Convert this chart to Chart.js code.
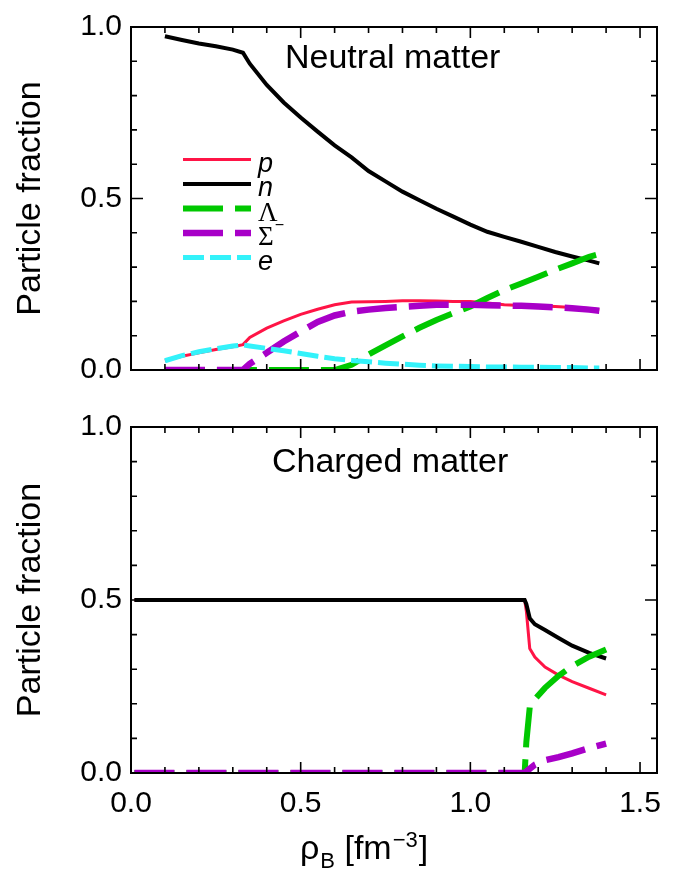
<!DOCTYPE html>
<html>
<head>
<meta charset="utf-8">
<script src="https://cdn.jsdelivr.net/npm/chart.js@4.4.0/dist/chart.umd.min.js"></script>
<style>
  body { margin: 0; background: #fff; }
  #wrap { position: relative; width: 688px; height: 874px; }
  canvas { position: absolute; left: 0; display: block; }
</style>
</head>
<body>
<div id="wrap">
  <canvas id="top" width="688" height="400" style="top:0"></canvas>
  <canvas id="bottom" width="688" height="474" style="top:400px"></canvas>
</div>
<script>
// baryon density grid, neutral matter panel
let xNeutral = [0.10, 0.15, 0.20, 0.25, 0.30, 0.33, 0.35, 0.40, 0.45, 0.50, 0.55, 0.60, 0.65, 0.70,
                0.75, 0.80, 0.85, 0.90, 0.95, 1.00, 1.05, 1.10, 1.15, 1.20, 1.25, 1.30, 1.35, 1.38];
let pNeutral = [0.027, 0.040, 0.050, 0.060, 0.068, 0.074, 0.095, 0.122, 0.143, 0.162, 0.177, 0.190, 0.198, 0.199,
                0.200, 0.202, 0.202, 0.201, 0.200, 0.200, 0.195, 0.190, 0.188, 0.187, 0.185, 0.182, 0.179, 0.176];
let nNeutral = [0.973, 0.962, 0.952, 0.944, 0.934, 0.925, 0.893, 0.831, 0.780, 0.736, 0.695, 0.655, 0.620, 0.580,
                0.550, 0.520, 0.495, 0.470, 0.447, 0.424, 0.403, 0.388, 0.374, 0.359, 0.344, 0.331, 0.319, 0.311];
let lamNeutral = [0, 0, 0, 0, 0, 0, 0, 0, 0, 0, 0, 0, 0.015, 0.045,
                  0.072, 0.098, 0.123, 0.146, 0.166, 0.185, 0.210, 0.233, 0.252, 0.272, 0.292, 0.311, 0.330, 0.338];
let sigNeutral = [0, 0, 0, 0, 0, 0, 0.018, 0.050, 0.083, 0.112, 0.140, 0.159, 0.170, 0.176,
                  0.181, 0.184, 0.187, 0.190, 0.190, 0.190, 0.189, 0.188, 0.187, 0.185, 0.183, 0.180, 0.176, 0.173];
let eNeutral = [0.027, 0.042, 0.053, 0.062, 0.070, 0.073, 0.070, 0.063, 0.056, 0.048, 0.040, 0.033, 0.028, 0.024,
                0.020, 0.017, 0.014, 0.012, 0.011, 0.010, 0.009, 0.009, 0.008, 0.008, 0.007, 0.007, 0.006, 0.006];

// charged matter panel
let xCharged = [0.01, 0.50, 1.00, 1.16, 1.165, 1.175, 1.19, 1.22, 1.26, 1.30, 1.35, 1.40];
let pCharged = [0.5, 0.5, 0.5, 0.5, 0.468, 0.360, 0.335, 0.306, 0.283, 0.264, 0.245, 0.226];
let nCharged = [0.5, 0.5, 0.5, 0.5, 0.488, 0.447, 0.430, 0.413, 0.390, 0.368, 0.347, 0.331];
let lamCharged = [0, 0, 0, 0, 0.090, 0.190, 0.213, 0.246, 0.281, 0.309, 0.336, 0.357];
let sigCharged = [0, 0, 0, 0, 0.004, 0.012, 0.024, 0.037, 0.046, 0.057, 0.072, 0.085];

let xTickValues = [0, 0.5, 1.0, 1.5];
let xTickLabels = ['0.0', '0.5', '1.0', '1.5'];
let yTickValues = [0, 0.5, 1.0];
let yTickLabels = ['0.0', '0.5', '1.0'];

let legendLabels = ['p', 'n', 'Λ', 'Σ', 'e'];

let styles = {
  p:   { color: '#ff1446', width: 3,   dash: [] },
  n:   { color: '#000000', width: 4,   dash: [] },
  lam: { color: '#00c800', width: 6,   dash: [40, 12] },
  sig: { color: '#a800c8', width: 6.5, dash: [40, 12] },
  e:   { color: '#33f2fa', width: 5,   dash: [21, 6] },
};

Chart.defaults.color = '#000';
Chart.defaults.font.family = '"Liberation Sans", Arial, Helvetica, sans-serif';

function line(xs, ys, key, order) {
  let s = styles[key];
  return {
    data: xs.map((x, i) => ({ x: x, y: ys[i] })),
    borderColor: s.color,
    borderWidth: s.width,
    borderDash: s.dash,
    pointRadius: 0,
    tension: 0,
    fill: false,
    clip: 0,
    order: order,
  };
}

// box with inward ticks on all four sides
let frameTicks = {
  id: 'frameTicks',
  afterDraw(chart) {
    let { ctx, chartArea: a, scales } = chart;
    let x = scales.x, y = scales.y;
    ctx.save();
    ctx.strokeStyle = '#000';
    ctx.lineWidth = 1.6;
    ctx.beginPath();
    for (let i = 0; i <= 15; i++) {
      let px = x.getPixelForValue(i / 10);
      let len = i % 5 === 0 ? 11 : 6;
      ctx.moveTo(px, a.bottom); ctx.lineTo(px, a.bottom - len);
      ctx.moveTo(px, a.top); ctx.lineTo(px, a.top + len);
    }
    for (let i = 0; i <= 10; i++) {
      let py = y.getPixelForValue(i / 10);
      let len = i % 5 === 0 ? 12 : 6;
      ctx.moveTo(a.left, py); ctx.lineTo(a.left + len, py);
      ctx.moveTo(a.right, py); ctx.lineTo(a.right - len, py);
    }
    ctx.stroke();
    ctx.lineWidth = 2;
    ctx.strokeRect(a.left, a.top, a.right - a.left, a.bottom - a.top);
    ctx.restore();
  }
};

let textBits = {
  id: 'textBits',
  afterDraw(chart, args, opts) {
    let ctx = chart.ctx;
    ctx.save();
    ctx.fillStyle = '#000';
    ctx.textBaseline = 'alphabetic';
    ctx.font = '34px "Liberation Sans", Arial, sans-serif';
    ctx.fillText(opts.label, opts.lx, opts.ly);

    if (opts.legend) {
      let dsIdx = [0, 1, 2, 3, 4];
      dsIdx.forEach((d, i) => {
        let ds = chart.data.datasets[d];
        let ly = 159.5 + i * 24.5;
        ctx.save();
        ctx.strokeStyle = ds.borderColor;
        ctx.lineWidth = ds.borderWidth;
        ctx.setLineDash(ds.borderDash);
        ctx.beginPath();
        ctx.moveTo(183, ly);
        ctx.lineTo(251, ly);
        ctx.stroke();
        ctx.restore();
        let lab = legendLabels[i];
        let greek = lab === 'Λ' || lab === 'Σ';
        ctx.font = greek ? '27px "Liberation Serif", "DejaVu Serif", serif'
                         : 'italic 27px "Liberation Sans", Arial, sans-serif';
        ctx.fillText(lab, 258, ly + 12);
        if (lab === 'Σ') {
          let w = ctx.measureText(lab).width;
          ctx.font = '16px "Liberation Sans", Arial, sans-serif';
          ctx.fillText('−', 258 + w + 1, ly - 3);
        }
      });
    }

    if (opts.xTitle) {
      let bx = 300, base = 459;
      ctx.font = '34px "Liberation Sans", Arial, sans-serif';
      ctx.fillText('ρ', bx, base);
      bx += ctx.measureText('ρ').width + 1;
      ctx.font = '22px "Liberation Sans", Arial, sans-serif';
      ctx.fillText('B', bx, base + 9);
      bx += ctx.measureText('B').width;
      ctx.font = '34px "Liberation Sans", Arial, sans-serif';
      ctx.fillText(' [fm', bx, base);
      bx += ctx.measureText(' [fm').width + 1;
      ctx.font = '22px "Liberation Sans", Arial, sans-serif';
      ctx.fillText('−3', bx, base - 12);
      bx += ctx.measureText('−3').width + 1;
      ctx.font = '34px "Liberation Sans", Arial, sans-serif';
      ctx.fillText(']', bx, base);
    }
    ctx.restore();
  }
};

function makeOptions(cfg) {
  return {
    responsive: false,
    animation: false,
    devicePixelRatio: 1,
    layout: { padding: { top: cfg.padTop, right: 31, left: 0, bottom: 0 } },
    plugins: {
      legend: { display: false },
      tooltip: { enabled: false },
      textBits: cfg.text,
    },
    scales: {
      x: {
        type: 'linear', min: 0, max: 1.55,
        grid: { display: false, drawTicks: false },
        border: { display: false },
        afterBuildTicks: s => { s.ticks = xTickValues.map(v => ({ value: v })); },
        ticks: { display: cfg.showX, padding: 13, font: { size: 30 },
                 callback: (v, i) => xTickLabels[i] },
        afterFit: s => { s.height = cfg.xHeight; },
      },
      y: {
        type: 'linear', min: 0, max: 1,
        grid: { display: false, drawTicks: false },
        border: { display: false },
        afterBuildTicks: s => { s.ticks = yTickValues.map(v => ({ value: v })); },
        ticks: { padding: 9, font: { size: 30 }, callback: (v, i) => yTickLabels[i] },
        title: { display: true, text: 'Particle fraction', font: { size: 34 },
                 padding: { top: 10, bottom: 0 } },
        afterFit: s => { s.width = 131; },
      },
    },
  };
}

new Chart(document.getElementById('top'), {
  type: 'line',
  data: {
    datasets: [
      line(xNeutral, pNeutral, 'p', 5),
      line(xNeutral, nNeutral, 'n', 4),
      line(xNeutral, lamNeutral, 'lam', 3),
      line(xNeutral, sigNeutral, 'sig', 2),
      line(xNeutral, eNeutral, 'e', 1),
    ],
  },
  options: makeOptions({
    padTop: 19, showX: false, xHeight: 30,
    text: { label: 'Neutral matter', lx: 285, ly: 68, legend: true, xTitle: false },
  }),
  plugins: [frameTicks, textBits],
});

new Chart(document.getElementById('bottom'), {
  type: 'line',
  data: {
    datasets: [
      line(xCharged, pCharged, 'p', 5),
      line(xCharged, nCharged, 'n', 4),
      line(xCharged, lamCharged, 'lam', 3),
      line(xCharged, sigCharged, 'sig', 2),
    ],
  },
  options: makeOptions({
    padTop: 23, showX: true, xHeight: 101,
    text: { label: 'Charged matter', lx: 272, ly: 72, legend: false, xTitle: true },
  }),
  plugins: [frameTicks, textBits],
});
</script>
</body>
</html>
